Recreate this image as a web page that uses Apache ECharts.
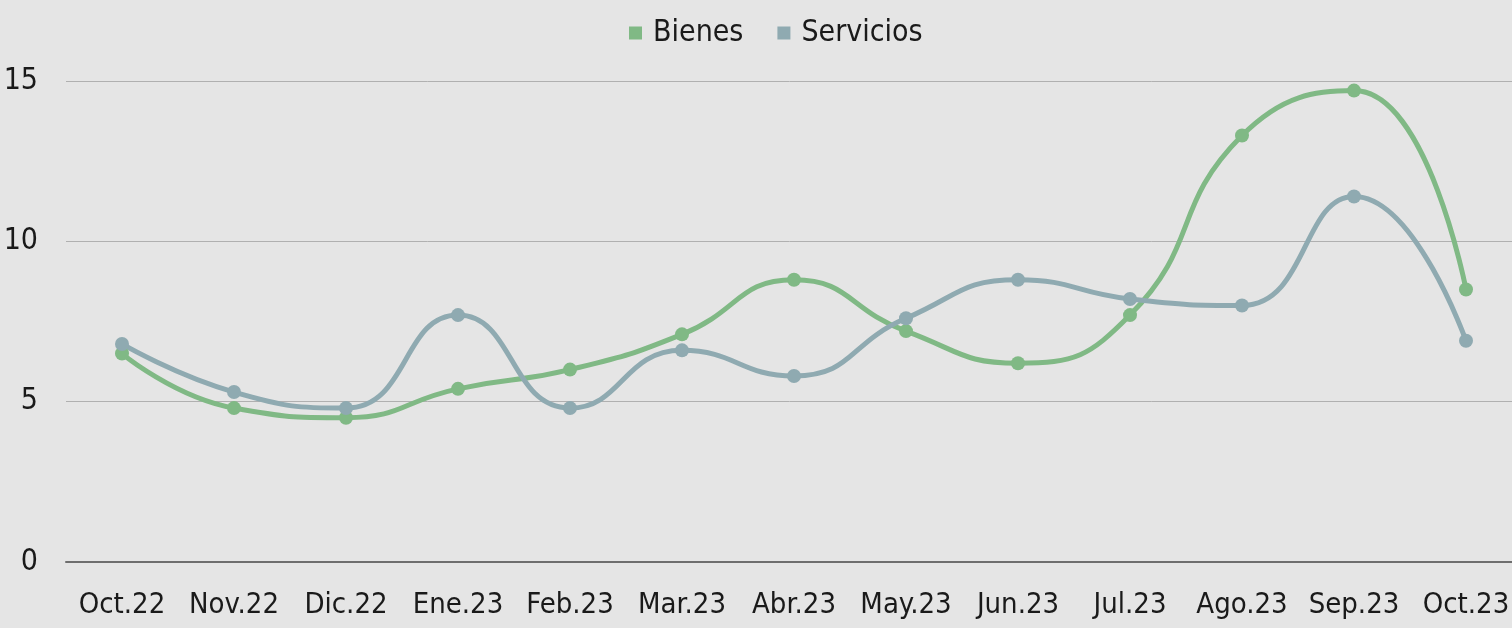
<!DOCTYPE html>
<html>
<head>
<meta charset="utf-8">
<script src="https://cdn.jsdelivr.net/npm/echarts@6/dist/echarts.min.js"></script>
<style>
html,body{margin:0;padding:0;background:#e5e5e5;}
#c{width:1512px;height:628px;}
</style>
</head>
<body>
<div id="c"></div>
<script>
var categories = ["Oct.22","Nov.22","Dic.22","Ene.23","Feb.23","Mar.23","Abr.23","May.23","Jun.23","Jul.23","Ago.23","Sep.23","Oct.23"];
var bienes = [6.5, 4.8, 4.5, 5.4, 6.0, 7.1, 8.8, 7.2, 6.2, 7.7, 13.3, 14.7, 8.5];
var servicios = [6.8, 5.3, 4.8, 7.7, 4.8, 6.6, 5.8, 7.6, 8.8, 8.2, 8.0, 11.4, 6.9];
var yTicks = [0, 5, 10, 15];

var FONT = '"DejaVu Sans Condensed", "Liberation Sans Narrow", sans-serif';
var chart = echarts.init(document.getElementById('c'), null, {renderer: 'canvas'});
chart.setOption({
  backgroundColor: '#e5e5e5',
  animation: false,
  textStyle: {fontFamily: FONT},
  legend: {
    top: 13,
    left: 624,
    itemWidth: 13,
    itemHeight: 13,
    itemGap: 34,
    icon: 'rect',
    textStyle: {fontFamily: FONT, fontSize: 30, color: '#1a1a1a', padding: [0, 0, 0, 6]},
    data: ['Bienes', 'Servicios']
  },
  grid: {left: 66, right: -10, top: 81, bottom: 66, containLabel: false, outerBoundsMode: 'none'},
  xAxis: {
    type: 'category',
    data: categories,
    boundaryGap: true,
    axisLine: {lineStyle: {color: '#6e6e6e', width: 2}},
    axisTick: {show: false},
    axisLabel: {fontFamily: FONT, fontSize: 29, color: '#1a1a1a', margin: 29, interval: 0, hideOverlap: false}
  },
  yAxis: {
    type: 'value',
    min: yTicks[0],
    max: yTicks[yTicks.length - 1],
    interval: 5,
    axisLine: {show: false},
    axisTick: {show: false},
    splitLine: {lineStyle: {color: '#b0b0b0', width: 1}},
    axisLabel: {fontFamily: FONT, fontSize: 30, color: '#1a1a1a', margin: 28, padding: [4, 0, 0, 0]}
  },
  series: [
    {
      name: 'Bienes', type: 'line', data: bienes, smooth: 0.5,
      symbol: 'circle', symbolSize: 14,
      itemStyle: {color: '#80b985'},
      lineStyle: {color: '#80b985', width: 5}
    },
    {
      name: 'Servicios', type: 'line', data: servicios, smooth: 0.5,
      symbol: 'circle', symbolSize: 14,
      itemStyle: {color: '#8faab1'},
      lineStyle: {color: '#8faab1', width: 5}
    }
  ]
});
</script>
</body>
</html>
